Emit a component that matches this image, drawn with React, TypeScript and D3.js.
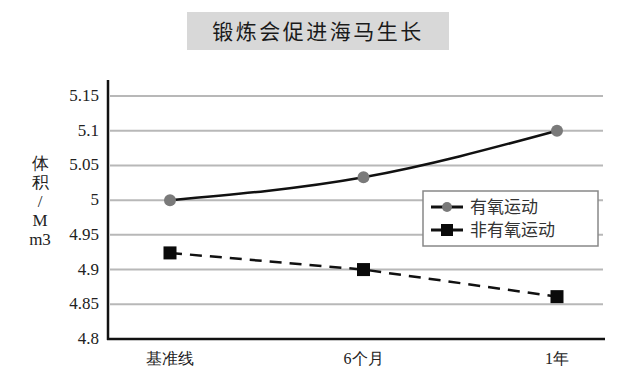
import React from "react";
import * as d3 from "d3";

const categories = ["基准线", "6个月", "1年"];
const aerobic = [5.0, 5.033, 5.1];
const nonAerobic = [4.924, 4.9, 4.861];
const yTicks = [4.8, 4.85, 4.9, 4.95, 5.0, 5.05, 5.1, 5.15];
const yTickLabels = ["4.8", "4.85", "4.9", "4.95", "5", "5.05", "5.1", "5.15"];
const seriesNames = ["有氧运动", "非有氧运动"];
const title = "锻炼会促进海马生长";
const yLabelLines = ["体", "积", "/", "M", "m3"];

export default function App() {
  const W = 640, H = 376;
  const left = 108, right = 605, axisTop = 80, bottom = 339;
  const x = d3.scalePoint<string>().domain(categories).range([170, 557]).padding(0);
  const y = d3.scaleLinear().domain([4.8, 5.15]).range([bottom, 96]);
  const serifStyle = { fontFamily: "'Liberation Serif', 'Times New Roman', serif" };
  const cjk = "Noto Sans CJK SC, sans-serif";
  const lineA = d3.line<number>().x((_, i) => x(categories[i])!).y(d => y(d)).curve(d3.curveMonotoneX);
  const lineB = d3.line<number>().x((_, i) => x(categories[i])!).y(d => y(d));
  const lx = 423, ly = 191, lw = 175, lh = 55;
  return (
    <svg width={W} height={H} style={{ position: "absolute", left: 0, top: 0, background: "#fff" }}>
      <rect x={0} y={0} width={W} height={H} fill="#fff" />
      <rect x={187} y={12} width={262} height={38} fill="#d8d8d8" />
      <text x={318} y={39} textAnchor="middle" fontSize={21} fill="#1a1a1a" fontFamily={cjk} letterSpacing={2.5}>{title}</text>
      {yTicks.slice(1).map(t => (
        <line key={t} x1={left + 2} x2={603} y1={y(t)} y2={y(t)} stroke="#b8b8b8" strokeWidth={2} />
      ))}
      <line x1={left} x2={left} y1={axisTop} y2={bottom + 1} stroke="#111" strokeWidth={2.5} />
      <line x1={left - 1} x2={right} y1={bottom} y2={bottom} stroke="#111" strokeWidth={2.5} />
      {yTicks.map((t, i) => (
        <text key={t} x={99} y={y(t) + 5} textAnchor="end" fontSize={17} style={serifStyle} fill="#222">{yTickLabels[i]}</text>
      ))}
      {categories.map(c => (
        <text key={c} x={x(c)!} y={364} textAnchor="middle" fontSize={16} style={serifStyle} fill="#222">{c}</text>
      ))}
      {yLabelLines.map((s, i) => (
        <text key={i} x={40} y={169 + i * 19} textAnchor="middle" fontSize={17} style={serifStyle} fill="#222">{s}</text>
      ))}
      <path d={lineB(nonAerobic)!} fill="none" stroke="#111" strokeWidth={2.5} strokeDasharray="12,8" />
      <path d={lineA(aerobic)!} fill="none" stroke="#111" strokeWidth={2.5} />
      {aerobic.map((v, i) => (
        <circle key={i} cx={x(categories[i])!} cy={y(v)} r={6} fill="#7a7a7a" />
      ))}
      {nonAerobic.map((v, i) => (
        <rect key={i} x={x(categories[i])! - 6.5} y={y(v) - 6.5} width={13} height={13} fill="#0a0a0a" />
      ))}
      <rect x={lx} y={ly} width={lw} height={lh} fill="#fff" stroke="#888" strokeWidth={1.5} />
      <line x1={lx + 8} x2={lx + 40} y1={ly + 16} y2={ly + 16} stroke="#111" strokeWidth={3} />
      <circle cx={lx + 24} cy={ly + 16} r={5} fill="#7a7a7a" />
      <text x={lx + 47} y={ly + 22} fontSize={17} fontFamily={cjk} fill="#333">{seriesNames[0]}</text>
      <line x1={lx + 8} x2={lx + 40} y1={ly + 39} y2={ly + 39} stroke="#111" strokeWidth={3} />
      <rect x={lx + 18} y={ly + 33} width={12} height={12} fill="#0a0a0a" />
      <text x={lx + 47} y={ly + 45} fontSize={17} fontFamily={cjk} fill="#333">{seriesNames[1]}</text>
    </svg>
  );
}
